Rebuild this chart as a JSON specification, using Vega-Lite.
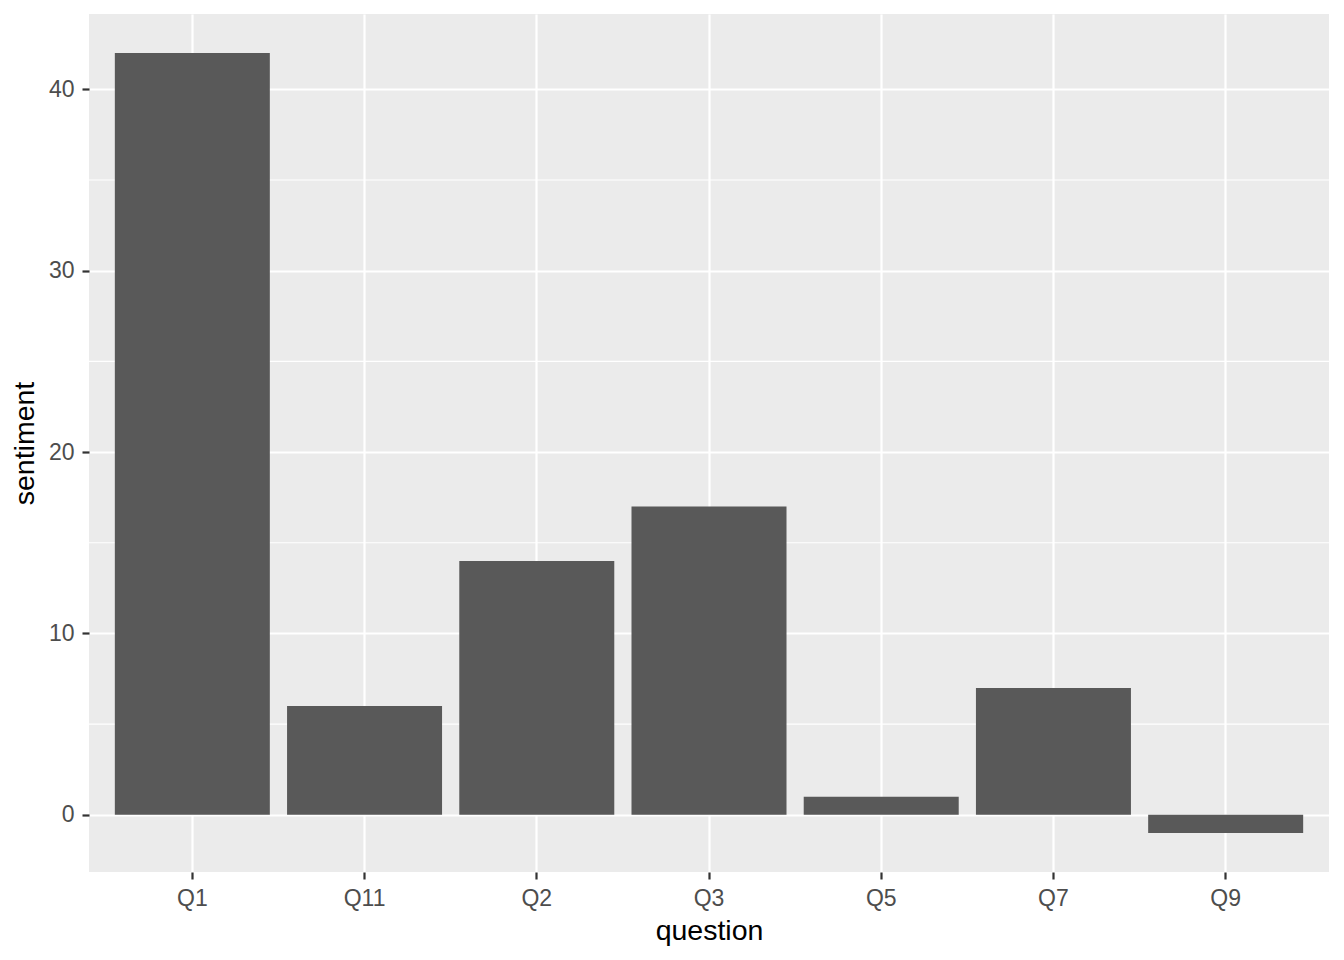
{
  "$schema": "https://vega.github.io/schema/vega-lite/v6.json",
  "width": 1240,
  "height": 858,
  "autosize": {"type": "none"},
  "padding": {"left": 89, "top": 14, "right": 15, "bottom": 88},
  "background": "white",
  "config": {
    "view": {"fill": "#EBEBEB", "stroke": null},
    "font": "Liberation Sans"
  },
  "datasets": {
    "bars": [
      {"question": "Q1", "sentiment": 42},
      {"question": "Q11", "sentiment": 6},
      {"question": "Q2", "sentiment": 14},
      {"question": "Q3", "sentiment": 17},
      {"question": "Q5", "sentiment": 1},
      {"question": "Q7", "sentiment": 7},
      {"question": "Q9", "sentiment": -1}
    ],
    "minor": [
      {"v": 5}, {"v": 15}, {"v": 25}, {"v": 35}
    ]
  },
  "layer": [
    {
      "data": {"name": "minor"},
      "mark": {"type": "rule", "color": "white", "strokeWidth": 1.2},
      "encoding": {
        "y": {"field": "v", "type": "quantitative", "scale": {"domain": [-3.15, 44.15], "nice": false, "zero": false}}
      }
    },
    {
      "data": {"name": "bars"},
      "mark": {"type": "bar", "color": "#595959"},
      "encoding": {
        "x": {
          "field": "question",
          "type": "nominal",
          "sort": null,
          "scale": {"paddingInner": 0.1, "paddingOuter": 0.15},
          "axis": {
            "title": "question", "labelAngle": 0, "labelPadding": 8, "titlePadding": 6,
            "grid": true, "gridColor": "white", "gridWidth": 2.2, "bandPosition": 0.5,
            "domain": false, "tickColor": "#333333", "tickSize": 7, "tickWidth": 2.2,
            "labelColor": "#4D4D4D", "labelFontSize": 23, "labelFont": "Liberation Sans",
            "titleFont": "Liberation Sans", "titleFontSize": 28.5, "titleFontWeight": "normal", "titleColor": "black"
          }
        },
        "y": {
          "field": "sentiment",
          "type": "quantitative",
          "scale": {"domain": [-3.15, 44.15], "nice": false, "zero": false},
          "axis": {
            "title": "sentiment", "values": [0, 10, 20, 30, 40], "labelPadding": 8, "titlePadding": 9,
            "grid": true, "gridColor": "white", "gridWidth": 2.2,
            "domain": false, "tickColor": "#333333", "tickSize": 7, "tickWidth": 2.2,
            "labelColor": "#4D4D4D", "labelFontSize": 23, "labelFont": "Liberation Sans",
            "titleFont": "Liberation Sans", "titleFontSize": 28.5, "titleFontWeight": "normal", "titleColor": "black"
          }
        },
        "y2": {"datum": 0}
      }
    }
  ]
}
